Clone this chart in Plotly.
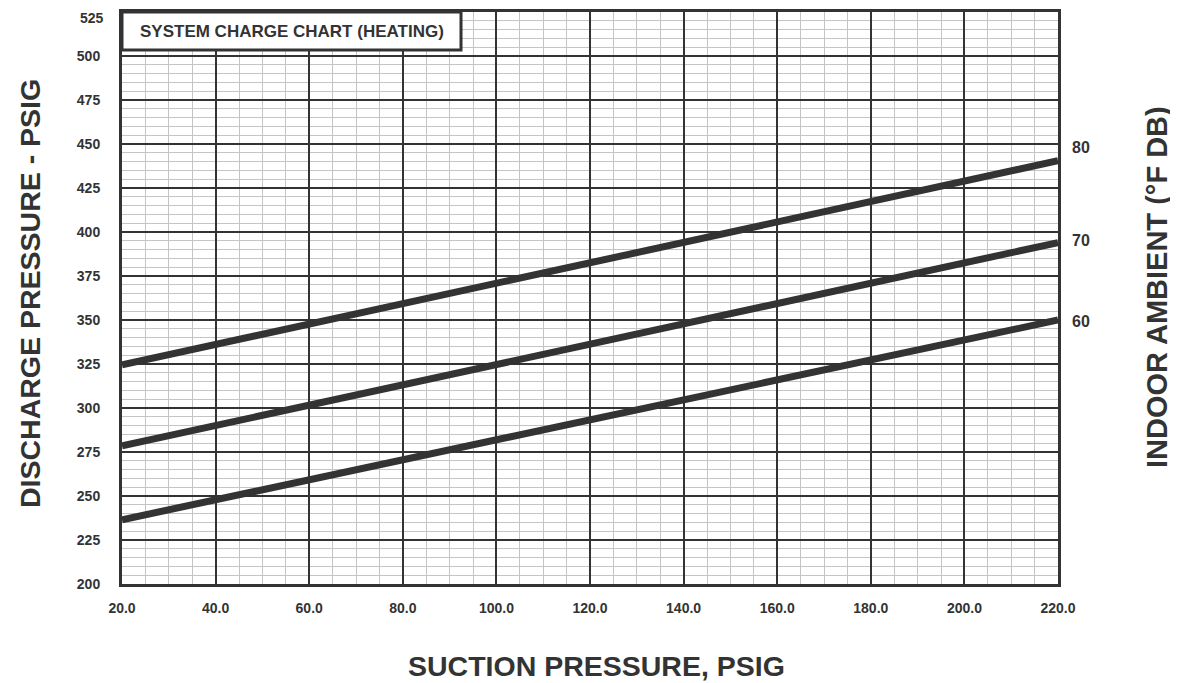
import plotly.graph_objects as go

suction = [20.0, 220.0]
discharge_80 = [324.5, 440.5]
discharge_70 = [278.5, 394.0]
discharge_60 = [236.5, 350.0]
ambient_labels = ["80", "70", "60"]
ambient_label_y = [448.0, 395.0, 349.0]

x_ticks = [20, 40, 60, 80, 100, 120, 140, 160, 180, 200, 220]
y_ticks = list(range(200, 526, 25))

DARK = "#333333"
FONT = "Liberation Sans, Arial, Helvetica, sans-serif"

# page body has an 8px margin; figure coordinates are page coordinates minus 8
W, H = 1170, 675
L, R, T, B = 114, 120, 4, 99
PW, PH = W - L - R, H - T - B


def px_x(page_x):
    return (page_x - 8 - L) / PW


def px_y(page_y):
    return 1 - (page_y - 8 - T) / PH


fig = go.Figure()
for ys in (discharge_80, discharge_70, discharge_60):
    fig.add_trace(go.Scatter(x=suction, y=ys, mode="lines",
                             line=dict(color=DARK, width=7), showlegend=False,
                             hoverinfo="skip"))

fig.update_layout(
    width=W, height=H,
    margin=dict(l=L, r=R, t=T, b=B, autoexpand=False),
    paper_bgcolor="white", plot_bgcolor="white",
    font=dict(family=FONT, color=DARK),
    showlegend=False,
)

tick_font = dict(family=FONT, size=14, color=DARK, weight="bold")

fig.update_xaxes(
    range=[20, 220], tickvals=x_ticks, tickformat=".1f", automargin=False,
    showgrid=True, gridcolor=DARK, gridwidth=2,
    minor=dict(dtick=5, tick0=20, showgrid=True, gridcolor="#c4c4c4", gridwidth=1),
    showline=True, linecolor=DARK, linewidth=3, mirror=True,
    zeroline=False, ticks="", ticklabelstandoff=9, ticklabeloverflow="allow",
    tickfont=tick_font,
)
# top label (525) is placed as an annotation so it stays inside the page
y_text = [str(v) if v != y_ticks[-1] else "" for v in y_ticks]
fig.update_yaxes(
    range=[200, 525], tickvals=y_ticks, ticktext=y_text, automargin=False,
    showgrid=True, gridcolor=DARK, gridwidth=2,
    minor=dict(dtick=5, tick0=200, showgrid=True, gridcolor="#c4c4c4", gridwidth=1),
    showline=True, linecolor=DARK, linewidth=3, mirror=True,
    zeroline=False, ticks="", ticklabelstandoff=16, ticklabeloverflow="allow",
    tickfont=tick_font,
)
fig.add_annotation(x=0, xref="paper", y=y_ticks[-1], yref="y", text=str(y_ticks[-1]),
                   xanchor="right", yanchor="top", xshift=-16, yshift=4,
                   showarrow=False, font=tick_font)

# right-side ambient labels
for lab, yv in zip(ambient_labels, ambient_label_y):
    fig.add_annotation(x=1.0, xref="paper", y=yv, yref="y", text=lab,
                       xanchor="left", xshift=12, showarrow=False,
                       font=dict(family=FONT, size=16, color=DARK, weight="bold"))

# chart title box
fig.add_shape(type="rect", xref="paper", yref="paper",
              x0=0.0, x1=px_x(461), y0=px_y(50), y1=1.0,
              line=dict(color=DARK, width=3), fillcolor="white", layer="above")
fig.add_annotation(x=px_x(292), xref="paper", y=px_y(31), yref="paper",
                   text="SYSTEM CHARGE CHART (HEATING)", showarrow=False,
                   xanchor="center", yanchor="middle",
                   font=dict(family=FONT, size=17, color=DARK, weight="bold"))

# axis titles
fig.add_annotation(x=px_x(30), xref="paper", y=px_y(294), yref="paper",
                   text="DISCHARGE PRESSURE - PSIG", textangle=-90, showarrow=False,
                   xanchor="center", yanchor="middle",
                   font=dict(family=FONT, size=28.5, color=DARK, weight="bold"))
fig.add_annotation(x=px_x(596), xref="paper", y=px_y(666), yref="paper",
                   text="SUCTION PRESSURE, PSIG", showarrow=False,
                   xanchor="center", yanchor="middle",
                   font=dict(family=FONT, size=28.5, color=DARK, weight="bold"))
fig.add_annotation(x=px_x(1157), xref="paper", y=px_y(287), yref="paper",
                   text="INDOOR AMBIENT (°F DB)", textangle=-90, showarrow=False,
                   xanchor="center", yanchor="middle",
                   font=dict(family=FONT, size=29, color=DARK, weight="bold"))

fig.write_html("out.html")
